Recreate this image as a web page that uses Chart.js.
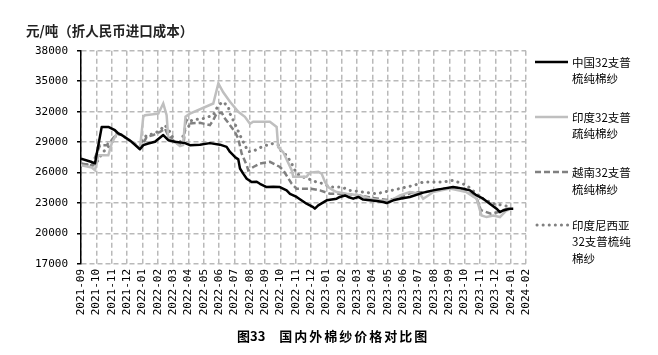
<!DOCTYPE html>
<html><head><meta charset="utf-8">
<script src="https://cdn.jsdelivr.net/npm/chart.js@4"></script>
<style>
html,body{margin:0;padding:0;background:#fff;}
#wrap{position:relative;width:658px;height:355px;overflow:hidden;}
#c{position:absolute;left:0;top:0;}
.t{position:absolute;font-family:"Noto Sans CJK SC",sans-serif;color:#000;white-space:nowrap;}
.leg{position:absolute;left:572px;font-family:"Noto Sans CJK SC",sans-serif;font-size:11.5px;line-height:16.7px;color:#000;}
svg{position:absolute;left:0;top:0;}
</style></head>
<body><div id="wrap">
<canvas id="c" width="658" height="355"></canvas>
<div class="t" style="left:26px;top:20px;font-size:13.5px;font-weight:bold;color:#222;">元/吨（折人民币进口成本）</div>
<div class="t" style="left:237px;top:326px;font-size:13px;font-weight:bold;">图33<span style="display:inline-block;width:14px"></span><span style="letter-spacing:2px">国内外棉纱价格对比图</span></div>
<svg width="658" height="355">
<line x1="535" y1="62" x2="568" y2="62" stroke="#000" stroke-width="2.5"/>
<line x1="535" y1="117" x2="568" y2="117" stroke="#bfbfbf" stroke-width="2.5"/>
<line x1="535" y1="172" x2="568" y2="172" stroke="#808080" stroke-width="2.5" stroke-dasharray="6,3"/>
<line x1="537" y1="225" x2="568" y2="225" stroke="#808080" stroke-width="3" stroke-dasharray="0.1,6" stroke-linecap="round"/>
</svg>
<div class="leg" style="top:53.5px">中国32支普<br>梳纯棉纱</div>
<div class="leg" style="top:108.5px">印度32支普<br>疏纯棉纱</div>
<div class="leg" style="top:164px">越南32支普<br>梳纯棉纱</div>
<div class="leg" style="top:216.7px">印度尼西亚<br>32支普梳纯<br>棉纱</div>
</div>
<script>
const monthLabels = ["2021-09","2021-10","2021-11","2021-12","2022-01","2022-02","2022-03","2022-04","2022-05","2022-06","2022-07","2022-08","2022-09","2022-10","2022-11","2022-12","2023-01","2023-02","2023-03","2023-04","2023-05","2023-06","2023-07","2023-08","2023-09","2023-10","2023-11","2023-12","2024-01","2024-02"];
const seriesNames = ["中国32支普梳纯棉纱","印度32支普疏纯棉纱","越南32支普梳纯棉纱","印度尼西亚32支普梳纯棉纱"];

const chinaT = [0,0.70,0.91,1.35,1.78,2.21,2.43,2.65,3.30,3.84,4.06,4.38,4.82,5.36,5.69,6.12,6.78,7.10,7.75,8.40,9.06,9.49,9.71,10.03,10.25,10.36,10.57,10.80,11.12,11.45,11.66,12.10,12.53,12.96,13.40,13.62,14.05,14.70,15.13,15.24,15.46,16.01,16.66,16.87,17.20,17.41,17.74,18.07,18.39,18.83,19.26,19.69,19.92,20.35,20.78,21.43,22.30,22.95,23.60,24.25,24.91,25.34,25.78,26.21,26.64,27.08,27.30,27.52,27.95,28.17];
const chinaV = [27380,27040,26900,30500,30500,30170,29850,29700,29030,28300,28700,28860,29030,29700,29190,29030,28900,28700,28750,28900,28750,28530,28030,27540,27300,26400,25900,25400,25070,25100,24900,24580,24600,24580,24250,23900,23600,22940,22600,22450,22770,23270,23430,23600,23750,23600,23430,23600,23340,23270,23200,23100,23000,23270,23430,23600,24030,24250,24420,24580,24420,24250,23750,23430,22940,22450,22100,22270,22450,22450];

const indiaT = [0,0.70,0.91,1.13,1.78,2.00,2.33,2.65,3.30,3.84,4.06,4.17,5.04,5.36,5.58,5.69,6.12,6.45,6.65,6.81,7.10,8.62,8.95,9.27,9.71,10.25,10.68,11.01,11.22,12.31,12.75,12.85,13.18,13.73,13.83,14.70,14.92,15.46,15.68,15.90,16.11,16.44,16.66,17.31,18.18,18.83,19.48,20.13,20.78,21.43,22.08,22.30,22.63,22.95,24.04,25.12,25.78,26.10,26.43,26.87,27.30,27.73,28.06];
const indiaV = [26720,26500,26240,27700,27700,28860,29850,29700,29030,28370,31500,31650,31800,32800,31650,29340,29030,28600,28700,31500,31800,32800,34780,33900,32970,31980,31490,30800,31000,31000,30500,28500,28000,26230,25600,25600,26000,26070,25900,25070,24580,24250,24080,23920,23750,23430,23270,23200,23750,24080,23920,23430,23750,24080,24420,24080,23430,21780,21620,21780,21620,22270,22430];

const vietnamT = [0,0.70,1.02,1.24,1.67,2.00,2.33,2.65,3.30,3.84,4.06,4.28,4.71,5.15,5.47,5.69,6.12,6.45,6.70,6.80,6.89,7.10,7.75,8.40,8.62,8.84,9.17,9.38,9.71,10.03,10.25,10.47,10.80,10.90,11.23,11.66,12.31,12.75,12.96,13.18,13.73,14.05,14.92,15.57,16.22,17.00,18.00,19.00,20.00,20.80,21.50,22.50,23.50,24.50,25.20,25.80,26.06,26.71,27.15,27.73,28.06];
const vietnamV = [26890,26720,27870,28700,28700,29200,29850,29700,29030,28370,28860,29520,29690,30000,30340,29600,29030,28700,29000,30830,31160,30830,30900,30670,31160,31820,31900,31330,30670,30000,29340,27870,26720,26230,26550,26890,27050,26720,26550,26230,24910,24420,24420,24250,23920,23900,23800,23500,23300,23500,24000,24100,24400,24500,24100,23400,22300,21950,22100,22430,22500];

const indonesiaT = [0,0.78,1.13,1.35,1.56,1.78,2.11,2.33,2.65,3.30,3.84,3.95,4.28,4.82,5.26,5.47,5.80,6.12,6.34,6.56,6.78,7.00,7.21,7.97,8.62,8.95,9.27,9.60,9.71,10.03,10.36,10.68,10.90,11.34,11.77,12.42,12.85,13.07,13.40,13.73,14.05,14.48,15.35,15.79,16.22,16.98,17.52,19.26,21.22,21.71,22.30,23.60,24.25,25.12,25.78,26.21,26.87,27.52,28.06];
const indonesiaV = [26890,26720,27210,27870,28200,28530,29190,29850,29700,29030,28530,29030,29690,29850,30340,30670,30000,29030,28860,29190,30170,30500,31160,31330,31650,32640,32970,32470,31800,30800,29690,28700,28040,28200,28530,28860,28700,28040,27700,26890,25900,25570,25070,24910,24580,24580,24250,23920,24580,24750,25070,25070,25240,24750,23920,23400,22940,22770,22600];

const yTicks = [17000,20000,23000,26000,29000,32000,35000,38000];

const pts = (t, v) => t.map((x, i) => ({x: x, y: v[i]}));

new Chart(document.getElementById('c'), {
  type: 'line',
  data: {
    datasets: [
      {label: seriesNames[0], data: pts(chinaT, chinaV), borderColor: '#000', borderWidth: 2.5, pointRadius: 0, tension: 0, borderJoinStyle: 'round'},
      {label: seriesNames[1], data: pts(indiaT, indiaV), borderColor: '#bfbfbf', borderWidth: 2.5, pointRadius: 0, tension: 0},
      {label: seriesNames[2], data: pts(vietnamT, vietnamV), borderColor: '#808080', borderWidth: 2.5, borderDash: [6,3], pointRadius: 0, tension: 0},
      {label: seriesNames[3], data: pts(indonesiaT, indonesiaV), borderColor: '#808080', borderWidth: 3, borderDash: [0.1,6], borderCapStyle: 'round', pointRadius: 0, tension: 0}
    ]
  },
  options: {
    responsive: false,
    animation: false,
    events: [],
    layout: {padding: {left: 0, top: 50.7, right: 132, bottom: 31}},
    plugins: {legend: {display: false}, tooltip: {enabled: false}},
    scales: {
      x: {
        type: 'linear', min: 0, max: 29,
        afterFit: s => { s.height = 60; },
        ticks: {stepSize: 1, autoSkip: false, maxTicksLimit: 100, maxRotation: 90, minRotation: 90, padding: 5,
          color: '#000', font: {family: 'DejaVu Sans Mono', size: 11},
          callback: v => monthLabels[v] ?? ''},
        grid: {display: true, drawOnChartArea: true, color: 'rgb(185,185,185)', lineWidth: 1.5, drawTicks: false},
        border: {display: false, dash: [5,3]}
      },
      y: {
        min: 17000, max: 38000,
        afterFit: s => { s.width = 81; },
        afterBuildTicks: s => { s.ticks = yTicks.map(v => ({value: v})); },
        ticks: {color: '#000', padding: 9, font: {family: 'DejaVu Sans Mono', size: 11}, callback: v => String(v)},
        grid: {display: true, drawOnChartArea: true, color: 'rgb(185,185,185)', lineWidth: 1.5, drawTicks: true, tickLength: 4, tickColor: 'rgb(0,0,0)', tickWidth: 1.5},
        border: {display: true, color: '#000', width: 1.5, dash: [5,3]}
      }
    }
  }
});
</script>
</body></html>
